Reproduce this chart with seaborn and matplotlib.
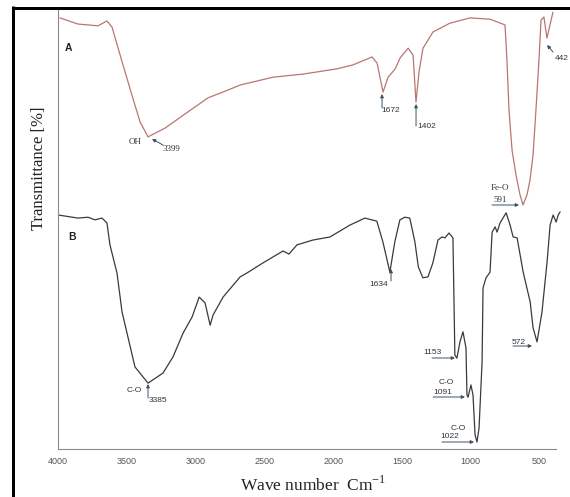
import numpy as np
import pandas as pd
import matplotlib
matplotlib.use("Agg")
import matplotlib.pyplot as plt
import seaborn as sns
from matplotlib.lines import Line2D

# ---------------- data ----------------
wave_a = [3988, 3857, 3711, 3646, 3609, 3536, 3464, 3405, 3347, 3223, 3056, 2910, 2786,
          2677, 2437, 2219, 1971, 1855, 1717, 1680, 1637, 1600, 1548, 1512, 1454, 1418,
          1397, 1375, 1346, 1273, 1150, 1004, 858, 749, 735, 720, 698, 669, 640, 618,
          589, 567, 545, 524, 502, 487, 466, 444, 422, 400]
trans_a = [98.2, 96.8, 96.4, 97.5, 96.1, 88.2, 80.6, 74.5, 71.1, 73.1, 76.8, 80.0, 81.5,
           82.9, 84.7, 85.4, 86.6, 87.5, 89.3, 87.9, 81.3, 84.7, 86.6, 89.1, 91.3, 89.7,
           79.0, 85.9, 91.3, 95.0, 97.0, 98.2, 97.9, 96.6, 88.6, 77.2, 68.1, 62.4, 57.9, 55.6,
           57.9, 61.3, 67.0, 77.2, 88.6, 97.7, 98.4, 93.6, 96.6, 99.5]

wave_b = [4000, 3857, 3784, 3733, 3682, 3646, 3624, 3573, 3536, 3500, 3442, 3347, 3238,
          3165, 3092, 3026, 2975, 2932, 2895, 2874, 2801, 2677, 2627, 2510, 2365, 2321,
          2263, 2147, 2023, 1878, 1769, 1682, 1638, 1587, 1551, 1514, 1478, 1442, 1405,
          1380, 1347, 1310, 1274, 1237, 1208, 1186, 1157, 1128, 1114, 1099, 1077, 1055, 1033, 1026,
          1018, 997, 982, 967, 953, 938, 916, 909, 887, 858, 843, 821, 807, 785, 741,
          712, 690, 661, 617, 566, 545, 516, 480, 443, 421, 399, 377, 362, 348]
trans_b = [53.3, 52.6, 52.8, 52.2, 52.6, 51.5, 46.5, 40.1, 31.2, 26.4, 18.7, 15.0, 17.3,
           21.0, 26.4, 30.1, 34.6, 33.3, 28.2, 30.5, 34.6, 39.2, 40.1, 42.4, 45.1, 44.4,
           46.5, 47.6, 48.3, 51.0, 52.6, 51.9, 47.2, 40.3, 47.2, 52.2, 52.8, 52.6, 47.2,
           41.5, 39.0, 39.2, 42.4, 47.6, 48.3, 48.1, 49.2, 48.1, 21.4, 20.7, 24.4, 26.7, 23.0, 12.3,
           11.8, 14.6, 12.3, 3.2, 1.6, 4.8, 19.8, 36.7, 39.0, 40.3, 49.4, 50.6, 49.4, 51.5, 53.8,
           51.0, 48.3, 48.1, 40.3, 33.5, 27.6, 24.4, 31.2, 42.6, 51.0, 53.3, 51.7, 53.3, 54.0]

x_ticks = [4000, 3500, 3000, 2500, 2000, 1500, 1000, 500]

# ---------------- figure ----------------
sns.set_theme(style="white")
plt.rcParams['font.family'] = ['Liberation Sans', 'DejaVu Sans']

W, H = 570, 497
fig = plt.figure(figsize=(W / 100, H / 100), dpi=100)
fig.patch.set_facecolor("white")

x_left_px, x_right_px = 58.3, 562.6
y_top_px, y_bot_px = 10, 449
ax = fig.add_axes([x_left_px / W, 1 - y_bot_px / H,
                   (x_right_px - x_left_px) / W, (y_bot_px - y_top_px) / H])
ax.set_facecolor("white")

df_a = pd.DataFrame({"wave": wave_a, "T": trans_a})
df_b = pd.DataFrame({"wave": wave_b, "T": trans_b})
sns.lineplot(data=df_a, x="wave", y="T", ax=ax, color="#b87672", lw=0.9,
             estimator=None, sort=False)
sns.lineplot(data=df_b, x="wave", y="T", ax=ax, color="#3a3a3a", lw=0.9,
             estimator=None, sort=False)

ax.set_xlim(4000, 330)
ax.set_ylim(0, 100)
for s in ["top", "right"]:
    ax.spines[s].set_visible(False)
for s in ["left", "bottom"]:
    ax.spines[s].set_color("#8a8a8a")
    ax.spines[s].set_linewidth(0.8)
ax.spines["bottom"].set_bounds(4000, 380)
ax.set_yticks([])
ax.set_xticks(x_ticks)
ax.set_xticklabels([str(t) for t in x_ticks])
ax.tick_params(axis="x", direction="in", length=3, width=0.7, color="#8a8a8a",
               labelsize=6.5, labelcolor="#555555", pad=6)
ax.set_xlabel("")
ax.set_ylabel("")


# pixel -> data helpers for annotation layout
def X(px):
    return 4000 - (px - 58.3) / 0.1374


def Y(py):
    return (449 - py) / 4.39


acol = "#3d5066"
num_kw = dict(fontsize=6, color="#333333", family=["Liberation Sans"])
ser_kw = dict(fontsize=6.5, color="#333333", family=["Liberation Serif"])


def arrow(p0, p1):
    ax.annotate("", xy=(X(p1[0]), Y(p1[1])), xytext=(X(p0[0]), Y(p0[1])),
                arrowprops=dict(arrowstyle="-|>", color=acol, lw=0.7,
                                mutation_scale=5, shrinkA=0, shrinkB=0))


def txt(px, py, s, ha="left", kw=num_kw):
    ax.text(X(px), Y(py), s, ha=ha, va="center", **kw)


# series labels
ax.text(X(68), Y(48), "A", fontsize=7.5, fontweight="bold", color="#222222",
        ha="center", va="center")
ax.text(X(72), Y(237), "B", fontsize=7.5, fontweight="bold", color="#222222",
        ha="center", va="center")

# curve A annotations
txt(135, 142, "OH", ha="center", kw=ser_kw)
arrow((163, 145), (152, 139))
txt(163, 149, "3399", kw=ser_kw)
arrow((382, 108), (382, 94))
txt(381, 111, "1672")
arrow((416, 126), (416, 104))
txt(417, 127, "1402")
arrow((553, 52), (547, 45))
txt(555, 58, "442")
txt(500, 188, "Fe-O", ha="center", kw=ser_kw)
txt(500, 200, "591", ha="center", kw=ser_kw)
arrow((492, 205), (519, 205))

# curve B annotations
txt(134, 390, "C-O", ha="center")
arrow((148, 398), (148, 384))
txt(149, 400, "3385")
arrow((391, 281), (391, 269))
txt(388, 284, "1634", ha="right")
txt(423, 353, "1153")
arrow((432, 358), (455, 358))
txt(446, 382, "C-O", ha="center")
txt(433, 392, "1091")
arrow((433, 397), (465, 397))
txt(458, 428, "C-O", ha="center")
txt(440, 437, "1022")
arrow((442, 442), (474, 442))
txt(512, 342, "572")
arrow((513, 346), (532, 346))

# axis titles
fig.text(39 / W, 1 - 168 / H, "Transmittance [%]", rotation=90, ha="center",
         va="center", fontsize=12, color="#222222", family=["Liberation Serif"])
fig.text(313 / W, 1 - 485 / H, r"Wave number  Cm$^{\mathregular{-1}}$", ha="center",
         va="center", fontsize=12.5, color="#222222", family=["Liberation Serif"])

# outer frame (top and left thick lines)
lw_px = 3
fig.add_artist(Line2D([13 / W, 1.0], [1 - 7.5 / H, 1 - 7.5 / H], transform=fig.transFigure,
                      color="black", lw=lw_px * 0.72, solid_capstyle="butt"))
fig.add_artist(Line2D([13 / W, 13 / W], [0.0, 1 - 6 / H], transform=fig.transFigure,
                      color="black", lw=lw_px * 0.72, solid_capstyle="butt"))

fig.savefig("out.png", dpi=100, facecolor="white")
